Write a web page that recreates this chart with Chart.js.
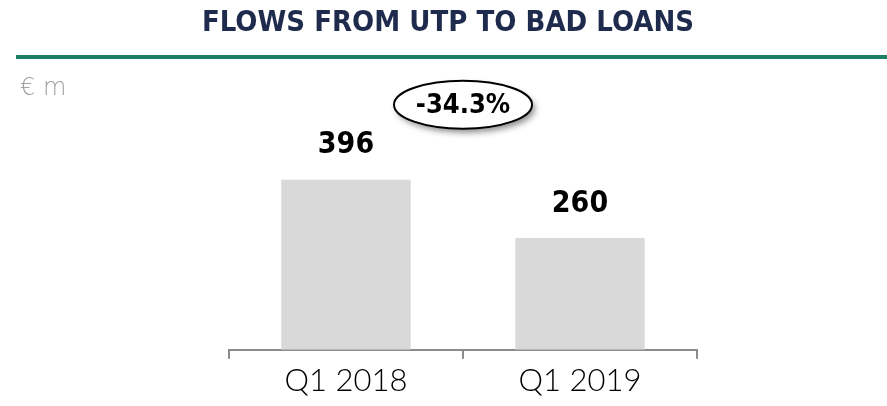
<!DOCTYPE html>
<html>
<head>
<meta charset="utf-8">
<script src="https://cdn.jsdelivr.net/npm/chart.js@4/dist/chart.umd.min.js"></script>
<style>
  html, body { margin: 0; padding: 0; background: #fff; }
  #wrap { width: 887px; height: 406px; position: relative; }
</style>
</head>
<body>
<div id="wrap"><canvas id="chart"></canvas></div>
<script>
// chart data
const categories = ['Q1 2018', 'Q1 2019'];
const flows = [396, 260];
const chartTitle = 'FLOWS FROM UTP TO BAD LOANS';
const unitLabel = '€ m';

const change = (flows[1] - flows[0]) / flows[0] * 100;
const changeText = change.toFixed(1) + '%';

// title, green rule and unit label
const headerPlugin = {
    id: 'header',
    afterDraw(chart) {
        const ctx = chart.ctx;
        ctx.save();
        ctx.fillStyle = '#1f2b4d';
        ctx.font = 'bold 29px "DejaVu Sans Condensed", sans-serif';
        ctx.textAlign = 'center';
        ctx.textBaseline = 'middle';
        ctx.fillText(chartTitle, 448, 23);

        ctx.strokeStyle = '#1b7f66';
        ctx.lineWidth = 4;
        ctx.beginPath();
        ctx.moveTo(16, 57);
        ctx.lineTo(887, 57);
        ctx.stroke();

        ctx.fillStyle = '#a0a0a0';
        ctx.font = '200 24px "DejaVu Sans", sans-serif';
        ctx.textAlign = 'left';
        ctx.fillText(unitLabel, 20, 89);
        ctx.restore();
    }
};

// value labels above bars and the change bubble
const labelsPlugin = {
    id: 'barLabels',
    afterDatasetsDraw(chart) {
        const ctx = chart.ctx;
        const meta = chart.getDatasetMeta(0);
        ctx.save();
        ctx.fillStyle = '#000';
        ctx.font = 'bold 30px "DejaVu Sans Condensed", sans-serif';
        ctx.textAlign = 'center';
        ctx.textBaseline = 'middle';
        meta.data.forEach((bar, i) => {
            ctx.fillText(String(flows[i]), bar.x, bar.y - 34);
        });

        // bubble
        const cx = (meta.data[0].x + meta.data[1].x) / 2;
        const cy = meta.data[0].y - 75;
        ctx.save();
        ctx.shadowColor = 'rgba(0,0,0,0.45)';
        ctx.shadowBlur = 6;
        ctx.shadowOffsetX = 3;
        ctx.shadowOffsetY = 4;
        ctx.fillStyle = '#fff';
        ctx.beginPath();
        ctx.ellipse(cx, cy, 69, 24, 0, 0, Math.PI * 2);
        ctx.fill();
        ctx.restore();
        ctx.strokeStyle = '#000';
        ctx.lineWidth = 2;
        ctx.beginPath();
        ctx.ellipse(cx, cy, 69, 24, 0, 0, Math.PI * 2);
        ctx.stroke();
        ctx.fillStyle = '#000';
        ctx.font = 'bold 27px "DejaVu Sans Condensed", sans-serif';
        ctx.fillText(changeText, cx, cy + 1);
        ctx.restore();
    }
};

new Chart(document.getElementById('chart'), {
    type: 'bar',
    data: {
        labels: categories,
        datasets: [{
            data: flows,
            backgroundColor: '#d9d9d9',
            borderWidth: 0,
            categoryPercentage: 1,
            barPercentage: 0.553
        }]
    },
    options: {
        responsive: true,
        maintainAspectRatio: false,
        animation: false,
        layout: { padding: { left: 229, right: 190, top: 92, bottom: 2 } },
        scales: {
            x: {
                grid: {
                    display: true,
                    drawOnChartArea: false,
                    drawTicks: true,
                    tickLength: 9,
                    color: '#8c8c8c',
                    lineWidth: 2
                },
                border: { display: true, color: '#8c8c8c', width: 2 },
                ticks: {
                    color: '#000',
                    padding: 4,
                    font: { family: 'Lato, sans-serif', size: 31, weight: '300' }
                }
            },
            y: {
                display: false,
                min: 0,
                max: 600
            }
        },
        plugins: {
            legend: { display: false },
            tooltip: { enabled: false }
        }
    },
    plugins: [headerPlugin, labelsPlugin]
});
</script>
</body>
</html>
